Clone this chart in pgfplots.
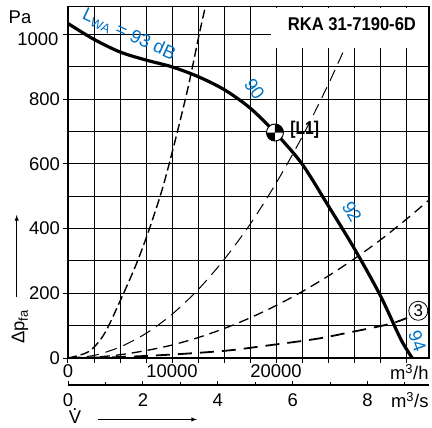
\documentclass[border=0pt]{standalone}
\usepackage{pgfplots}
\pgfplotsset{compat=1.18}
\usepackage{fontspec}
\setmainfont{Liberation Sans}
\definecolor{lblue}{RGB}{0,114,198}
\pgfdeclareplotmark{quart}{%
  \pgfpathcircle{\pgfpointorigin}{\pgfplotmarksize}%
  \pgfsetfillcolor{white}\pgfusepath{fill,stroke}%
  \pgfpathmoveto{\pgfpointorigin}%
  \pgfpathlineto{\pgfpoint{\pgfplotmarksize}{0pt}}%
  \pgfpatharc{0}{90}{\pgfplotmarksize}%
  \pgfpathclose
  \pgfpathmoveto{\pgfpointorigin}%
  \pgfpathlineto{\pgfpoint{-\pgfplotmarksize}{0pt}}%
  \pgfpatharc{180}{270}{\pgfplotmarksize}%
  \pgfpathclose
  \pgfsetfillcolor{black}\pgfusepath{fill}%
}
\newcommand{\fs}{\fontsize{18.5}{20}\selectfont}
\begin{document}
\begin{tikzpicture}
\begin{axis}[
  scale only axis, width=361bp, height=351.3bp,
  xmin=0, xmax=34710, ymin=0, ymax=1086,
  clip mode=individual,
  xtick={0,2500,...,32500},
  xticklabels={0,,,,10000,,,,20000,,,,,},
  ytick={0,200,...,1000},
  yticklabels={0,200,400,600,800,},
  minor ytick={100,300,...,900},
  grid=both,
  major grid style={black, line width=1bp},
  minor grid style={black, line width=1bp},
  axis line style={black, line width=1.1bp},
  tick style={black, line width=1bp},
  tick pos=left, tick align=outside,
  major tick length=4.5bp, minor tick length=0pt,
  ticklabel style={font=\fs},
  xticklabel style={yshift=1bp},
  scaled x ticks=false,
]
% system curves
\addplot[black, line width=1.4bp, dash pattern=on 9bp off 4bp, smooth] coordinates {
 (0,0) (2000,20) (3500,75) (5160,187) (6500,285) (7660,384) (9000,515) (10160,654) (11500,830) (12630,1003) (13200,1085)};
\addplot[black, line width=1bp, dash pattern=on 12bp off 7bp, smooth] coordinates {
 (0,0) (2500,8) (5000,34) (7500,76) (10000,135) (12500,211) (15000,304) (17500,413) (20000,540) (22500,683) (25000,844) (27500,1021) (28300,1080)};
\addplot[black, line width=1.3bp, dash pattern=on 10bp off 6bp, smooth] coordinates {
 (0,0) (2500,2.5) (5000,10) (7500,23) (10000,40) (12500,63) (15000,91) (17500,124) (20000,162) (22500,205) (25000,253) (27500,306) (30000,364) (32500,428) (34700,488)};
\addplot[black, line width=1.8bp, dash pattern=on 14bp off 8bp, smooth] coordinates {
 (0,0) (5000,3) (10000,10.7) (15190,22.6) (19040,38) (23850,59) (27050,79) (30900,105) (32600,124)};
% title box
\fill[white] (axis cs:19500,958) rectangle (axis cs:34610,1082);
% fan curve
\addplot[black, line width=3.2bp, smooth] coordinates {
 (0,1034) (2500,985) (5000,946) (7500,921) (10000,900) (12500,870) (15000,830) (17500,773) (20000,694) (22500,600) (25000,472) (27500,340) (30000,195) (32000,58) (33100,0)};
% operating point
\addplot[black, line width=1bp, mark=quart, mark size=8.5bp, only marks] coordinates {(19900,697)};
\node[anchor=west, font=\bfseries\fs] at (axis cs:21050,707) {\scalebox{0.85}[1]{[L1]}};
\node[draw, circle, line width=0.8bp, inner sep=0pt, minimum size=19bp, font=\fontsize{17}{17}\selectfont] at (axis cs:33680,146) {3};
% blue labels
\node[lblue, rotate=-25, font=\fs] at (axis cs:5870,1000) {L\textsubscript{WA} = 93 dB};
\node[lblue, rotate=-55, font=\fs] at (axis cs:17930,832) {90};
\node[lblue, rotate=-60, font=\fs] at (axis cs:27300,452) {92};
\node[lblue, rotate=-70, font=\fs] at (axis cs:33600,52) {94};
% title
\node[font=\bfseries\fs] at (axis cs:27300,1031) {\scalebox{0.9}[1]{RKA 31-7190-6D}};
% axis texts
\node[anchor=east, font=\fs] at (axis cs:0,1000) [xshift=-6bp, yshift=-5bp] {1000};
\node[font=\fs] at (axis cs:-4615,1052) {Pa};
\node[rotate=90, font=\fs] at (axis cs:-4615,96) {Δp\textsubscript{fa}};
\draw[-latex, line width=0.9bp] (axis cs:-4932,189) -- (axis cs:-4932,442);
\node[anchor=east, font=\fs] at (axis cs:35000,-43) {m\textsuperscript{3}/h};
\node[anchor=east, font=\fs] at (axis cs:35000,-130) {m\textsuperscript{3}/s};
\node[font=\fs] at (axis cs:673,-182) {V};
\node[font=\fs] at (axis cs:673,-158) {.};
\draw[-latex, line width=0.9bp] (axis cs:2885,-190) -- (axis cs:12400,-190);
\end{axis}
\begin{axis}[
  at={(0bp,-27bp)}, anchor=south west,
  scale only axis, width=361bp, height=10bp,
  xmin=0, xmax=9.6417, ymin=0, ymax=1,
  axis x line=bottom, hide y axis,
  x axis line style={-, black, line width=1.1bp},
  xtick={0,2,4,6,8}, xticklabels={0,2,4,6,8},
  minor xtick={1,3,5,7,9},
  tick style={black, line width=1bp},
  tick align=inside,
  major tick length=4bp, minor tick length=3bp,
  ticklabel style={font=\fs},
  xticklabel style={yshift=-5bp},
]
\end{axis}
\pgfresetboundingbox
\path[use as bounding box] (-68bp,-70bp) rectangle (364bp,358bp);
\end{tikzpicture}
\end{document}
